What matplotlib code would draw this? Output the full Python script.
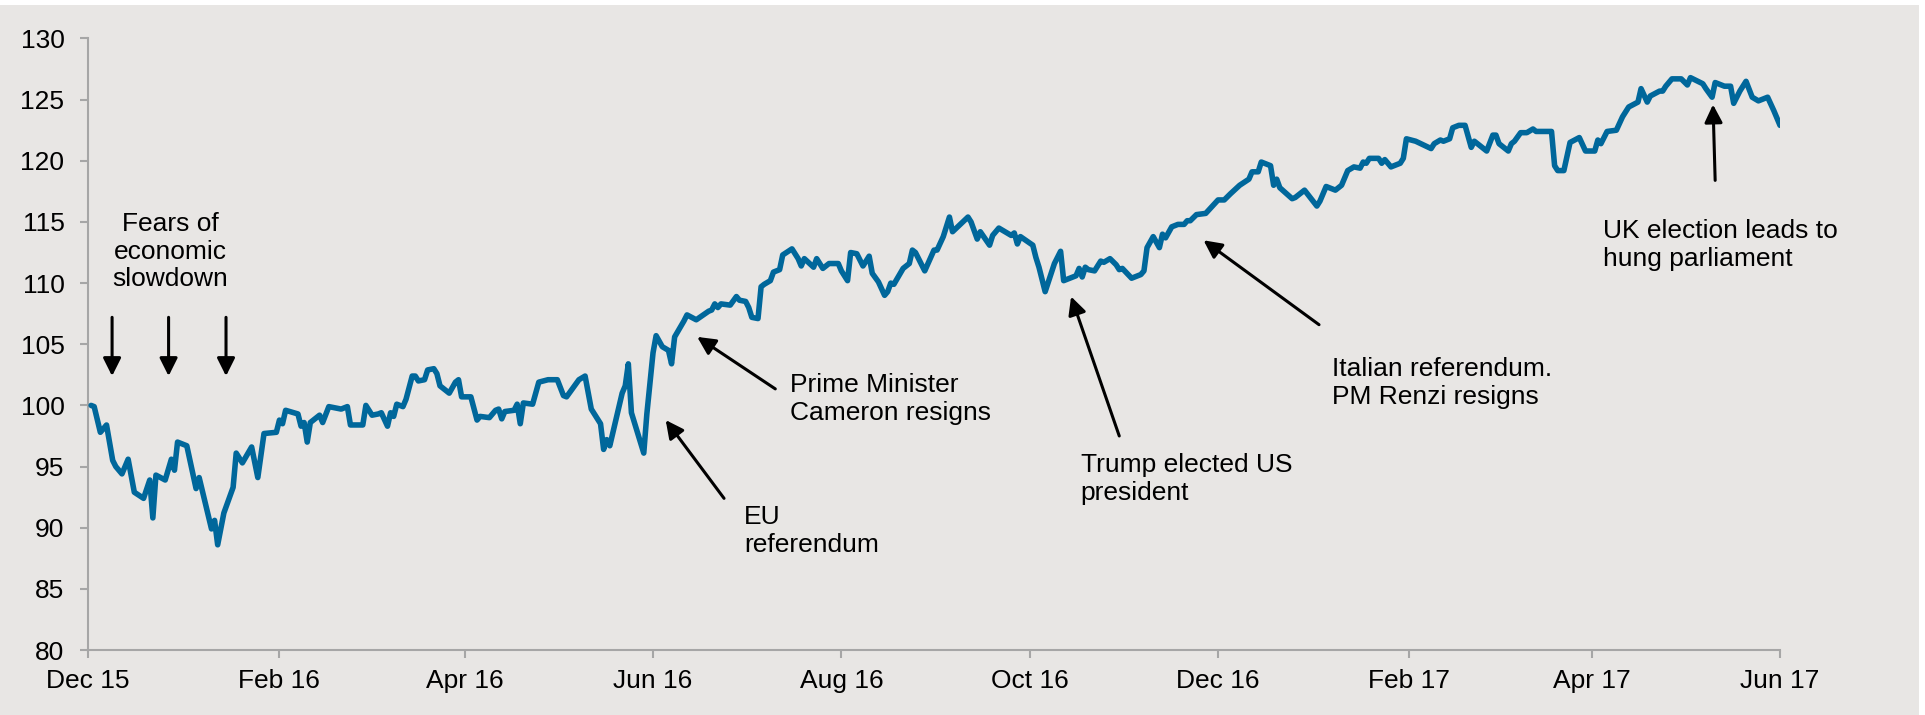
"""Index chart with event annotations, Dec 2015 - Jun 2017."""

import matplotlib.dates as mdates
import numpy as np
from matplotlib import pyplot as plt
from matplotlib.patches import Rectangle

plt.rcParams["font.family"] = ["Liberation Sans", "DejaVu Sans"]

START_DATE = np.datetime64("2015-12-01")

# days after START_DATE
days = [
    1, 2, 4, 6, 8, 9, 11, 13, 15, 18, 20, 21, 22, 25, 27, 28, 29, 32, 35, 36,
    40, 41, 42, 44, 47, 48, 50, 53, 55, 57, 61, 62, 63, 64, 68, 69, 70, 71, 72, 75,
    76, 78, 82, 84, 85, 89, 90, 92, 94, 95, 97, 98, 99, 100, 102, 103, 105, 106, 107, 109,
    110, 112, 113, 114, 117, 119, 120, 121, 124, 126, 127, 130, 132, 133, 134, 135, 138, 139, 140, 141,
    144, 146, 149, 152, 154, 155, 159, 161, 163, 166, 167, 168, 169, 173, 174, 175, 176, 180, 181, 183,
    184, 186, 188, 189, 190, 193, 194, 197, 201, 202, 203, 204, 205, 208, 210, 211, 213, 214, 215, 217,
    218, 219, 221, 222, 224, 225, 228, 230, 231, 232, 235, 236, 238, 240, 243, 244, 246, 247, 249, 251,
    253, 254, 256, 258, 259, 260, 261, 264, 266, 267, 268, 271, 274, 275, 277, 279, 280, 285, 286, 288,
    289, 292, 293, 295, 299, 300, 301, 302, 306, 307, 308, 310, 313, 315, 316, 320, 321, 322, 323, 324,
    326, 328, 329, 331, 333, 334, 335, 338, 341, 342, 343, 345, 347, 348, 349, 351, 353, 355, 356, 357,
    359, 362, 366, 368, 370, 373, 376, 377, 379, 380, 383, 384, 385, 386, 390, 391, 392, 394, 398, 399,
    401, 404, 406, 408, 410, 412, 413, 414, 415, 418, 419, 420, 422, 425, 426, 427, 430, 435, 436, 438,
    439, 441, 442, 444, 446, 448, 449, 453, 455, 456, 457, 460, 461, 462, 464, 466, 468, 469, 474, 475,
    476, 478, 480, 483, 485, 488, 489, 490, 492, 495, 497, 499, 502, 503, 505, 506, 509, 510, 511, 513,
    516, 518, 519, 523, 524, 526, 527, 530, 532, 533, 535, 537, 539, 541, 544, 546, 548,
]
values = [
    100.0, 99.9, 97.8, 98.4, 95.5, 95.0, 94.4, 95.6, 92.9, 92.4, 93.9, 90.8, 94.3, 93.9, 95.6, 94.7, 97.0, 96.7, 93.2, 94.1,
    89.9, 90.6, 88.6, 91.2, 93.3, 96.1, 95.3, 96.6, 94.1, 97.7, 97.8, 98.8, 98.5, 99.6, 99.3, 98.3, 98.6, 97.0, 98.6, 99.2,
    98.6, 99.9, 99.7, 99.9, 98.4, 98.4, 100.0, 99.2, 99.3, 99.4, 98.3, 99.4, 99.1, 100.1, 99.9, 100.5, 102.4, 102.4, 102.0, 102.1,
    102.9, 103.0, 102.6, 101.6, 101.0, 101.9, 102.1, 100.7, 100.7, 98.8, 99.1, 99.0, 99.6, 99.7, 98.9, 99.5, 99.6, 100.1, 98.5, 100.2,
    100.1, 101.9, 102.1, 102.1, 100.8, 100.7, 102.1, 102.4, 99.7, 98.5, 96.4, 97.2, 96.7, 101.0, 101.6, 103.4, 99.4, 96.1, 99.3, 104.3,
    105.7, 104.8, 104.5, 103.4, 105.6, 106.9, 107.4, 107.0, 107.7, 107.8, 108.3, 108.0, 108.3, 108.2, 108.9, 108.6, 108.5, 108.0, 107.2, 107.1,
    109.7, 109.9, 110.2, 110.9, 111.1, 112.3, 112.8, 112.0, 111.4, 112.0, 111.3, 112.0, 111.2, 111.6, 111.6, 111.0, 110.2, 112.5, 112.4, 111.4,
    112.2, 110.8, 110.1, 109.0, 109.3, 110.0, 109.9, 111.2, 111.6, 112.7, 112.5, 111.0, 112.7, 112.7, 113.8, 115.4, 114.2, 115.4, 115.0, 113.6,
    114.2, 113.1, 113.9, 114.5, 113.9, 114.1, 113.2, 113.8, 113.1, 112.1, 111.3, 109.3, 111.6, 112.6, 110.2, 110.6, 111.2, 110.5, 111.3, 111.1,
    111.0, 111.8, 111.7, 112.0, 111.5, 111.1, 111.2, 110.4, 110.7, 111.0, 112.9, 113.8, 112.9, 114.0, 113.7, 114.6, 114.8, 114.8, 115.1, 115.1,
    115.6, 115.7, 116.8, 116.8, 117.3, 118.0, 118.5, 119.1, 119.1, 119.9, 119.6, 118.0, 118.5, 117.8, 116.9, 117.0, 117.2, 117.6, 116.3, 116.7,
    117.9, 117.6, 118.0, 119.2, 119.5, 119.4, 119.9, 119.8, 120.2, 120.2, 119.8, 120.1, 119.5, 119.8, 120.2, 121.8, 121.6, 121.0, 121.4, 121.7,
    121.6, 121.8, 122.7, 122.9, 122.9, 121.1, 121.6, 120.8, 122.1, 122.1, 121.4, 120.8, 121.4, 121.6, 122.3, 122.3, 122.6, 122.4, 122.4, 119.6,
    119.2, 119.2, 121.5, 121.9, 120.8, 120.8, 121.7, 121.4, 122.4, 122.5, 123.6, 124.4, 124.8, 125.9, 124.8, 125.3, 125.7, 125.7, 126.1, 126.7,
    126.7, 126.2, 126.8, 126.3, 125.9, 125.2, 126.4, 126.1, 126.1, 124.7, 125.7, 126.5, 125.2, 124.9, 125.2, 124.1, 122.9,
]

# (text, text day, text value, alignment, arrow tail day, tail value, head day, head value)
events = [
    ("EU\nreferendum", 212.5, 89.7, "left", 206.0, 92.4, 187.1, 98.8),
    ("Prime Minister\nCameron resigns", 227.3, 100.5, "left", 222.6, 101.35, 197.3, 105.6),
    ("Trump elected US\npresident", 321.5, 94.0, "left", 334.0, 97.5, 318.4, 108.9),
    ("Italian referendum.\nPM Renzi resigns", 402.8, 101.8, "left", 398.7, 106.6, 361.3, 113.5),
    ("UK election leads to\nhung parliament", 490.7, 113.1, "left", 527.0, 118.4, 526.3, 124.6),
]
slowdown_days = [7.8, 26.1, 44.7]

LINE_COLOR = "#00679B"
BG_COLOR = "#E8E6E4"
AXIS_COLOR = "#A6A6A6"

base = mdates.date2num(START_DATE)
dates = START_DATE + np.array(days, dtype="timedelta64[D]")

fig = plt.figure(figsize=(19.25, 7.15), dpi=100, facecolor="white")
fig.patches.append(
    Rectangle((0, 0), 1919 / 1925, 710 / 715, transform=fig.transFigure,
              facecolor=BG_COLOR, edgecolor="none", zorder=-10)
)
ax = fig.add_axes((88 / 1925, 1 - 650 / 715, 1692 / 1925, 611.5 / 715))
ax.set_facecolor(BG_COLOR)

ax.plot(dates, values, color=LINE_COLOR, lw=4.0, solid_joinstyle="round",
        solid_capstyle="round", zorder=3)

ax.set_ylim(80, 130)
ax.set_yticks(range(80, 131, 5))
ax.set_xlim(START_DATE, np.datetime64("2017-06-01"))
ax.xaxis.set_major_locator(mdates.MonthLocator(bymonth=[2, 4, 6, 8, 10, 12]))
ax.xaxis.set_major_formatter(mdates.DateFormatter("%b %y"))

for side in ("top", "right"):
    ax.spines[side].set_visible(False)
for side in ("left", "bottom"):
    ax.spines[side].set_color(AXIS_COLOR)
    ax.spines[side].set_linewidth(1.5)
ax.tick_params(axis="both", colors=AXIS_COLOR, labelcolor="black",
               labelsize=19, length=6, width=1.5)
ax.tick_params(axis="y", pad=11)
ax.tick_params(axis="x", pad=8)

arrow_kw = dict(arrowstyle="-|>,head_length=0.4,head_width=0.2", color="black",
                lw=2.2, mutation_scale=27, shrinkA=0, shrinkB=0)

ax.text(base + 26.7, 112.57, "Fears of\neconomic\nslowdown", ha="center",
        va="center", fontsize=19, linespacing=1.2)
for d in slowdown_days:
    ax.annotate("", xy=(base + d, 102.4), xytext=(base + d, 107.2),
                arrowprops=arrow_kw)

for text, tx, ty, ha, ax0, ay0, ax1, ay1 in events:
    ax.text(base + tx, ty, text, ha=ha, va="center", fontsize=19,
            linespacing=1.2)
    ax.annotate("", xy=(base + ax1, ay1), xytext=(base + ax0, ay0),
                arrowprops=arrow_kw)

fig.savefig("out.png", dpi=100, facecolor=fig.get_facecolor())
